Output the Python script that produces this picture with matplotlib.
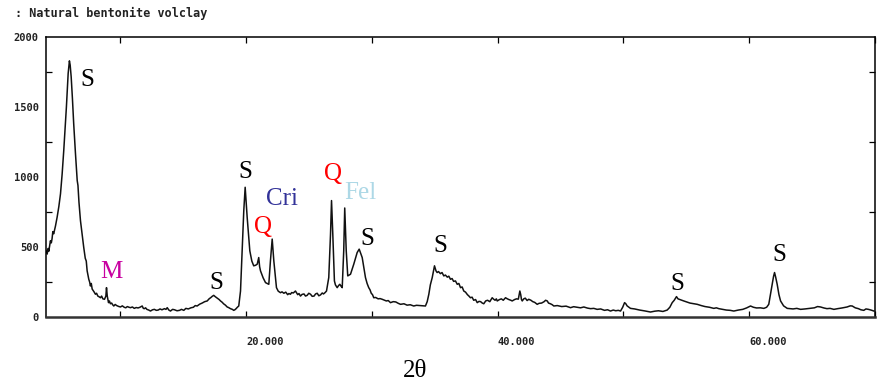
import matplotlib
matplotlib.use('Agg')
import matplotlib.pyplot as plt
from matplotlib.ticker import MultipleLocator, FixedLocator

# XRD trace, split into ranges (2theta in degrees, counts)
# low angle: the big smectite 001 reflection and the mica spike
theta_a = [4.08, 4.17, 4.25, 4.30, 4.43, 4.50, 4.56, 4.62, 4.69, 4.83, 4.96, 5.10, 5.23, 5.36,
           5.49, 5.60, 5.70, 5.78, 5.84, 5.90, 5.94, 6.00, 6.08, 6.18, 6.28, 6.42, 6.56, 6.62,
           6.70, 6.82, 6.95, 7.08, 7.20, 7.28, 7.35, 7.48, 7.55, 7.61, 7.68, 7.75, 7.90, 8.01,
           8.10, 8.20, 8.30, 8.41, 8.50, 8.60, 8.73, 8.84, 8.89, 8.95, 9.05, 9.12, 9.20, 9.30,
           9.38]
counts_a = [475, 450, 490, 470, 545, 530, 560, 610, 595, 650, 712, 790, 880, 1020,
            1190, 1350, 1500, 1640, 1740, 1790, 1830, 1800, 1716, 1560, 1382, 1170, 975, 940,
            820, 688, 590, 497, 420, 400, 330, 270, 250, 222, 240, 200, 180, 163,
            170, 150, 145, 138, 150, 130, 127, 150, 210, 150, 103, 115, 95, 100,
            88]

# 9.5 - 19.5: flat background with the small smectite bump near 17.4
theta_b = [9.47, 9.58, 9.70, 9.85, 10.00, 10.15, 10.30, 10.42, 10.55, 10.68, 10.80, 10.95,
           11.10, 11.25, 11.40, 11.55, 11.73, 11.82, 11.90, 12.00, 12.10, 12.25, 12.39, 12.55,
           12.70, 12.85, 13.00, 13.15, 13.30, 13.50, 13.62, 13.72, 13.85, 13.98, 14.15, 14.30,
           14.50, 14.70, 14.85, 15.04, 15.20, 15.40, 15.60, 15.80, 15.95, 16.10, 16.30, 16.50,
           16.70, 16.90, 17.05, 17.20, 17.30, 17.42, 17.55, 17.70, 17.85, 17.96, 18.10, 18.20,
           18.35, 18.49, 18.60, 18.75, 18.90, 19.01, 19.10, 19.20, 19.30, 19.41]
counts_b = [79, 90, 82, 76, 72, 80, 70, 66, 75, 70, 67, 72,
            62, 68, 65, 70, 79, 62, 60, 66, 55, 50, 43, 52,
            55, 48, 50, 58, 52, 60, 55, 67, 50, 43, 55, 52,
            45, 48, 55, 48, 62, 58, 66, 70, 82, 79, 92, 100,
            110, 115, 130, 140, 148, 155, 145, 135, 125, 115, 105, 95,
            85, 72, 68, 60, 55, 48, 52, 60, 70, 79]

# 19.5 - 22.5: smectite 100 and the first quartz line
theta_c = [19.55, 19.68, 19.81, 19.92, 20.08, 20.29, 20.45, 20.60, 20.75, 20.88, 21.00, 21.07,
           21.14, 21.35, 21.54, 21.80, 21.93, 22.07, 22.20, 22.41]
counts_c = [186, 473, 760, 927, 712, 473, 400, 366, 370, 378, 425, 360,
            330, 280, 246, 234, 401, 557, 401, 210]

# 22.5 - 30: quartz 101, feldspar, smectite shoulder
theta_d = [22.55, 22.73, 22.85, 23.00, 23.15, 23.30, 23.40, 23.52, 23.62, 23.75, 23.92, 24.00,
           24.10, 24.20, 24.32, 24.45, 24.60, 24.72, 24.85, 24.98, 25.12, 25.25, 25.40, 25.52,
           25.65, 25.78, 25.91, 26.05, 26.15, 26.28, 26.39, 26.57, 26.71, 26.79, 26.89, 27.02,
           27.10, 27.24, 27.35, 27.45, 27.55, 27.64, 27.76, 27.84, 27.96, 28.08, 28.30, 28.56,
           28.83, 28.99, 29.23, 29.49, 29.62, 29.75, 29.85, 29.95]
counts_d = [185, 174, 180, 170, 178, 160, 168, 163, 175, 172, 186, 175,
            160, 168, 150, 162, 165, 150, 155, 170, 163, 148, 150, 165,
            170, 152, 158, 172, 165, 175, 186, 282, 593, 832, 593, 258,
            230, 210, 225, 234, 220, 210, 473, 779, 473, 294, 306, 378,
            461, 485, 425, 282, 240, 210, 195, 170]

# 30 - 44.5: the broad smectite band near 35
theta_e = [30.05, 30.15, 30.30, 30.50, 30.65, 30.82, 31.00, 31.15, 31.30, 31.48, 31.70, 31.90,
           32.10, 32.28, 32.55, 32.80, 33.05, 33.33, 33.55, 33.80, 34.05, 34.26, 34.40, 34.53,
           34.65, 34.80, 34.90, 34.98, 35.05, 35.10, 35.19, 35.30, 35.45, 35.58, 35.72, 35.85,
           36.00, 36.12, 36.25, 36.38, 36.50, 36.65, 36.79, 36.92, 37.05, 37.18, 37.31, 37.45,
           37.60, 37.72, 37.84, 37.97, 38.10, 38.25, 38.38, 38.52, 38.65, 38.78, 38.90, 39.05,
           39.20, 39.38, 39.57, 39.68, 39.80, 39.90, 39.97, 40.15, 40.30, 40.45, 40.63, 40.78,
           40.90, 41.05, 41.16, 41.35, 41.50, 41.65, 41.77, 41.84, 41.90, 41.96, 42.08, 42.20,
           42.35, 42.48, 42.65, 42.80, 42.95, 43.15, 43.30, 43.50, 43.70, 43.82, 43.95, 44.05,
           44.20, 44.35, 44.47]
counts_e = [160, 138, 140, 130, 132, 127, 120, 115, 118, 103, 110, 108,
            98, 91, 95, 85, 88, 79, 84, 82, 80, 79, 110, 163,
            230, 282, 330, 366, 345, 330, 318, 325, 310, 318, 294, 300,
            285, 292, 270, 275, 255, 258, 234, 240, 210, 215, 186, 178,
            160, 150, 138, 142, 120, 125, 103, 112, 110, 100, 95, 115,
            120, 110, 138, 128, 120, 130, 115, 125, 130, 120, 138, 130,
            125, 120, 115, 125, 130, 128, 186, 160, 125, 115, 130, 135,
            118, 127, 120, 110, 105, 91, 98, 100, 110, 120, 115, 100,
            95, 88, 79]

# 44.5 - 70: low background with smectite 06l lines
theta_f = [44.75, 45.10, 45.45, 45.80, 46.05, 46.30, 46.60, 46.86, 47.15, 47.40, 47.65, 47.92,
           48.20, 48.50, 48.75, 48.98, 49.20, 49.40, 49.60, 49.78, 49.95, 50.10, 50.20, 50.30,
           50.57, 50.90, 51.30, 51.70, 52.16, 52.50, 52.80, 53.15, 53.49, 53.70, 53.89, 54.05,
           54.23, 54.35, 54.50, 54.65, 54.81, 55.05, 55.30, 55.60, 55.88, 56.20, 56.50, 56.85,
           57.20, 57.40, 57.60, 57.90, 58.20, 58.50, 58.79, 59.15, 59.50, 59.80, 60.12, 60.35,
           60.60, 60.90, 61.18, 61.40, 61.57, 61.72, 61.85, 61.95, 62.03, 62.12, 62.24, 62.38,
           62.51, 62.75, 63.04, 63.25, 63.50, 63.80, 64.10, 64.45, 64.80, 65.20, 65.45, 65.69,
           65.95, 66.20, 66.45, 66.75, 67.05, 67.40, 67.80, 68.05, 68.21, 68.45, 68.70, 68.90,
           69.13, 69.30, 69.50, 69.70, 69.93]
counts_f = [82, 75, 78, 67, 74, 70, 66, 72, 64, 60, 62, 55,
            58, 48, 52, 43, 50, 45, 48, 43, 70, 103, 95, 80,
            62, 58, 50, 44, 36, 42, 45, 40, 50, 70, 103, 120,
            146, 130, 125, 120, 115, 108, 100, 95, 91, 82, 75, 70,
            62, 66, 60, 55, 50, 48, 43, 50, 55, 65, 79, 70,
            65, 66, 62, 70, 91, 170, 234, 290, 318, 285, 234, 160,
            115, 80, 62, 60, 58, 62, 55, 58, 62, 66, 75, 72,
            65, 60, 62, 55, 60, 65, 72, 80, 79, 66, 60, 52,
            48, 58, 55, 50, 43]

two_theta = theta_a + theta_b + theta_c + theta_d + theta_e + theta_f
counts = counts_a + counts_b + counts_c + counts_d + counts_e + counts_f

# phase labels: S smectite, M mica, Q quartz, Cri cristobalite, Fel feldspar
peak_names = ['S', 'M', 'S', 'S', 'Q', 'Cri', 'Q', 'Fel', 'S', 'S', 'S', 'S']
peak_pos = [(7.37, 1692), (9.28, 323), (17.64, 246), (19.94, 1035), (21.30, 645),
            (22.86, 846), (26.92, 1025), (29.09, 884), (29.63, 559), (35.46, 509),
            (54.31, 239), (62.43, 444)]
name_colors = {'S': 'black', 'M': '#C800A0', 'Q': '#FF0000', 'Cri': '#333399', 'Fel': '#ADD8E6'}

x_labels = [20, 40, 60]

fig = plt.figure(figsize=(8.78, 3.82), dpi=100)
ax = fig.add_axes([0.052, 0.170, 0.945, 0.733])

ax.plot(two_theta, counts, color='#111111', lw=1.1)

ax.set_xlim(4.05, 70.05)
ax.set_ylim(0, 2000)

for spine in ax.spines.values():
    spine.set_linewidth(1.1)
ax.spines['bottom'].set_linewidth(1.8)
ax.spines['bottom'].set_color('#333333')

# ticks inside on every side, like the diffractometer print
ax.xaxis.set_major_locator(FixedLocator(x_labels))
ax.xaxis.set_minor_locator(MultipleLocator(10))
ax.yaxis.set_minor_locator(MultipleLocator(250))
ax.tick_params(which='both', direction='in', top=True, right=True, length=4, width=0.9)
ax.tick_params(axis='y', which='major', length=0, pad=5)
ax.tick_params(axis='x', which='major', length=4, pad=14)
ax.set_xticklabels([f'{v}.000' for v in x_labels], fontfamily='DejaVu Sans Mono',
                   fontsize=7.5, fontweight='bold', color='#222222', ha='left')
ax.set_yticks([0, 500, 1000, 1500, 2000])
ax.set_yticklabels(['0', '500', '1000', '1500', '2000'], fontfamily='DejaVu Sans Mono',
                   fontsize=7.5, fontweight='bold', color='#222222')

for name, (px, py) in zip(peak_names, peak_pos):
    ax.text(px, py, name, color=name_colors[name], fontsize=18, fontfamily='Liberation Serif',
            ha='center', va='center')

fig.text(0.017, 0.966, ': Natural bentonite volclay', fontfamily='DejaVu Sans Mono',
         fontsize=8.5, fontweight='bold', color='#222222', va='center', ha='left')
fig.text(0.473, 0.029, '2θ', fontfamily='Liberation Serif', fontsize=18,
         ha='center', va='center')

fig.savefig('out.png', dpi=100)
